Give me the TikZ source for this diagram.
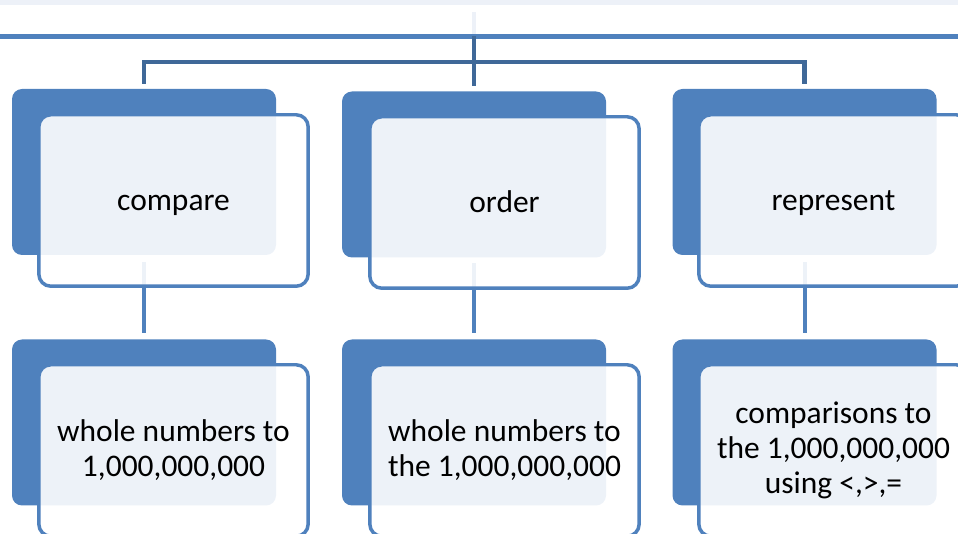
\documentclass[tikz,border=0pt]{standalone}
\usepackage{fontspec}
\setmainfont{Carlito}
\definecolor{accent}{HTML}{4F81BD}
\definecolor{accentdark}{HTML}{3F6898}
\definecolor{tint}{HTML}{EDF1F8}
% fixed line box for one-line labels
\newcommand{\labelstrut}{\rule[-7.9pt]{0pt}{30.8pt}}

\begin{document}
\begin{tikzpicture}[x=0.75pt,y=-0.75pt,
  backbox/.style={draw=none, fill=accent, rounded corners=7.5pt,
    minimum width=198pt, minimum height=124.5pt, inner sep=0pt},
  frontbox/.style={draw=accent, line width=2.6pt, fill=white, fill opacity=0.9,
    text opacity=1, rounded corners=9pt, minimum width=202pt, minimum height=128.6pt,
    inner sep=0pt, align=center, text=black, font=\fontsize{23.6}{26.3}\selectfont},
  bracket/.style={draw=accentdark, line width=3.4pt},
  conn/.style={draw=accent, line width=3pt},
  stub/.style={draw=tint, line width=3pt}]
\clip (0,0) rectangle (958,534);
\useasboundingbox (0,0) rectangle (958,534);

% strip of the parent box above, and its lower border
\fill[tint] (0,0) rectangle (958,5);
\coordinate (top) at (474,36.5);
\coordinate (stubend) at (474,12);
\draw[stub] (stubend) -- (top);
\coordinate (lineL) at (0,36.5);
\coordinate (lineR) at (958,36.5);
\draw[accent, line width=3.8pt] (lineL) -- (lineR);

% back boxes
\node[backbox] (pb1) at (144,172) {};
\node[backbox] (pb2) at (474,174.5) {};
\node[backbox] (pb3) at (804.5,172) {};
\node[backbox] (cb1) at (144,422.5) {};
\node[backbox] (cb2) at (474,422.5) {};
\node[backbox] (cb3) at (804.5,422.5) {};

% connectors from the parent to the first row
\coordinate (bar) at (474,62);
\draw[bracket] (top) -- (bar);
\draw[bracket, shorten >=3.75pt] (bar) -| (pb1.north);
\draw[bracket, shorten >=3.75pt] (bar) -| (pb3.north);
\draw[bracket, shorten >=3.75pt] (bar) -- (pb2.north);

% connectors between the rows
\draw[conn, shorten <=5pt, shorten >=5pt] (pb1.south) -- (cb1.north);
\draw[conn, shorten <=4pt, shorten >=5pt] (pb2.south) -- (cb2.north);
\draw[conn, shorten <=5pt, shorten >=5pt] (pb3.south) -- (cb3.north);

% front boxes with the texts
\node[frontbox] (pf1) at (173.5,200.5) {\labelstrut compare};
\node[frontbox] (pf2) at (504.5,202.5) {\labelstrut order};
\node[frontbox] (pf3) at (833.5,200.5) {\labelstrut represent};
\node[frontbox] (cf1) at (173.5,450.5) {whole numbers to\\1,000,000,000};
\node[frontbox] (cf2) at (504.5,450.5) {whole numbers to\\the 1,000,000,000};
\node[frontbox] (cf3) at (833.5,450.5) {comparisons to\\the 1,000,000,000\\using <,>,=};
\end{tikzpicture}
\end{document}
